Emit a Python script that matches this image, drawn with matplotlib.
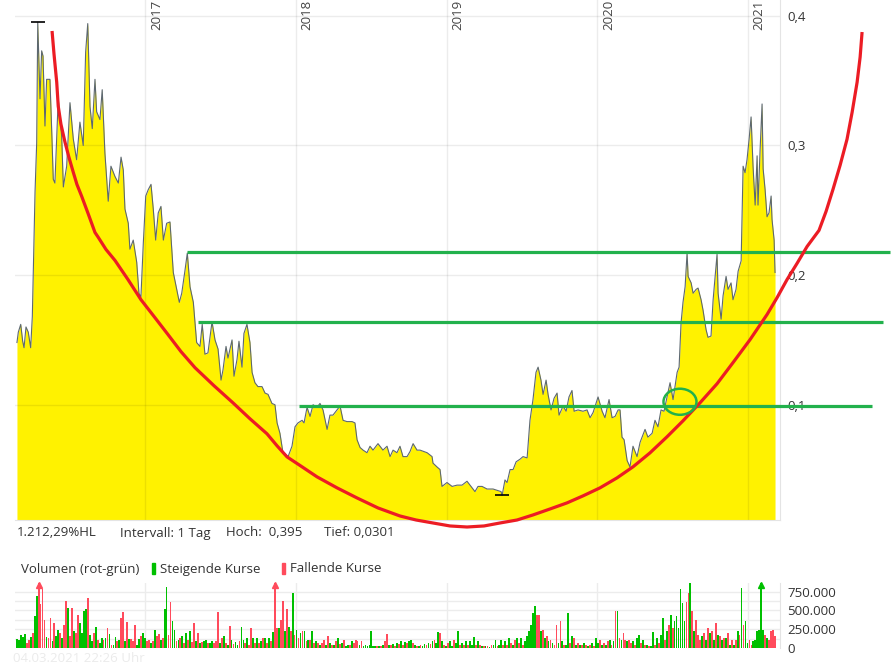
"""Chart with cup formation: daily price (yellow area) plus volume bars below."""

import matplotlib
matplotlib.use("Agg")
import matplotlib.pyplot as plt
import numpy as np
from matplotlib.patches import Ellipse, Rectangle

plt.rcParams["font.family"] = ["Open Sans", "DejaVu Sans"]

# ---- price data (decimal year, close) ----
price_years = [
    2016.148, 2016.157, 2016.173, 2016.186, 2016.195, 2016.208, 2016.223, 2016.239, 2016.250, 2016.268,
    2016.279, 2016.286, 2016.301, 2016.312, 2016.321, 2016.334, 2016.345, 2016.367, 2016.380, 2016.389,
    2016.400, 2016.422, 2016.445, 2016.456, 2016.478, 2016.500, 2016.522, 2016.544, 2016.566, 2016.588,
    2016.604, 2016.618, 2016.633, 2016.648, 2016.666, 2016.677, 2016.699, 2016.714, 2016.732, 2016.754,
    2016.772, 2016.799, 2016.821, 2016.839, 2016.854, 2016.865, 2016.887, 2016.898, 2016.920, 2016.943,
    2016.958, 2016.971, 2016.987, 2017.003, 2017.020, 2017.038, 2017.053, 2017.069, 2017.086, 2017.104,
    2017.120, 2017.142, 2017.164, 2017.186, 2017.209, 2017.226, 2017.242, 2017.264, 2017.279, 2017.297,
    2017.319, 2017.341, 2017.363, 2017.378, 2017.396, 2017.416, 2017.443, 2017.463, 2017.483, 2017.503,
    2017.516, 2017.536, 2017.549, 2017.576, 2017.589, 2017.609, 2017.622, 2017.642, 2017.655, 2017.675,
    2017.695, 2017.709, 2017.728, 2017.748, 2017.775, 2017.795, 2017.815, 2017.841, 2017.861, 2017.875,
    2017.894, 2017.914, 2017.928, 2017.948, 2017.974, 2017.994, 2018.014, 2018.041, 2018.054, 2018.074,
    2018.094, 2018.114, 2018.140, 2018.160, 2018.180, 2018.207, 2018.226, 2018.246, 2018.273, 2018.293,
    2018.313, 2018.339, 2018.373, 2018.392, 2018.406, 2018.426, 2018.446, 2018.472, 2018.492, 2018.512,
    2018.545, 2018.578, 2018.605, 2018.625, 2018.645, 2018.671, 2018.691, 2018.711, 2018.738, 2018.758,
    2018.778, 2018.804, 2018.824, 2018.871, 2018.904, 2018.910, 2018.937, 2018.957, 2018.970, 2019.003,
    2019.037, 2019.070, 2019.103, 2019.136, 2019.169, 2019.189, 2019.209, 2019.236, 2019.269, 2019.309,
    2019.335, 2019.362, 2019.369, 2019.388, 2019.402, 2019.422, 2019.442, 2019.462, 2019.488, 2019.508,
    2019.535, 2019.541, 2019.554, 2019.574, 2019.594, 2019.608, 2019.627, 2019.641, 2019.661, 2019.674,
    2019.694, 2019.714, 2019.734, 2019.747, 2019.774, 2019.794, 2019.813, 2019.833, 2019.847, 2019.873,
    2019.906, 2019.933, 2019.953, 2019.973, 2020.006, 2020.033, 2020.052, 2020.079, 2020.099, 2020.119,
    2020.139, 2020.152, 2020.165, 2020.179, 2020.199, 2020.218, 2020.238, 2020.265, 2020.285, 2020.318,
    2020.337, 2020.365, 2020.384, 2020.404, 2020.424, 2020.444, 2020.464, 2020.484, 2020.504, 2020.531,
    2020.544, 2020.557, 2020.570, 2020.584, 2020.597, 2020.604, 2020.624, 2020.637, 2020.657, 2020.670,
    2020.690, 2020.703, 2020.723, 2020.736, 2020.756, 2020.770, 2020.783, 2020.796, 2020.803, 2020.823,
    2020.836, 2020.856, 2020.869, 2020.889, 2020.902, 2020.922, 2020.936, 2020.956, 2020.969, 2020.982,
    2020.995, 2021.009, 2021.022, 2021.035, 2021.049, 2021.062, 2021.068, 2021.082, 2021.095, 2021.102,
    2021.115, 2021.128, 2021.141, 2021.155, 2021.161, 2021.175, 2021.181,
]
price_close = [
    0.148, 0.156, 0.162, 0.149, 0.144, 0.160, 0.156, 0.144, 0.168, 0.264,
    0.302, 0.395, 0.336, 0.373, 0.369, 0.315, 0.351, 0.351, 0.307, 0.274,
    0.271, 0.336, 0.307, 0.268, 0.284, 0.333, 0.305, 0.289, 0.318, 0.300,
    0.372, 0.394, 0.330, 0.313, 0.351, 0.326, 0.320, 0.343, 0.294, 0.257,
    0.284, 0.276, 0.271, 0.291, 0.281, 0.251, 0.240, 0.220, 0.227, 0.210,
    0.186, 0.183, 0.225, 0.261, 0.266, 0.270, 0.251, 0.227, 0.248, 0.253,
    0.227, 0.240, 0.241, 0.202, 0.189, 0.179, 0.186, 0.204, 0.217, 0.191,
    0.179, 0.148, 0.145, 0.162, 0.139, 0.140, 0.164, 0.150, 0.143, 0.119,
    0.127, 0.145, 0.136, 0.150, 0.122, 0.135, 0.149, 0.129, 0.155, 0.162,
    0.148, 0.125, 0.117, 0.114, 0.114, 0.109, 0.108, 0.101, 0.100, 0.086,
    0.078, 0.063, 0.062, 0.060, 0.068, 0.083, 0.086, 0.088, 0.086, 0.098,
    0.091, 0.100, 0.098, 0.101, 0.096, 0.081, 0.092, 0.092, 0.096, 0.099,
    0.088, 0.087, 0.087, 0.086, 0.073, 0.067, 0.065, 0.063, 0.068, 0.065,
    0.070, 0.065, 0.068, 0.060, 0.065, 0.063, 0.068, 0.060, 0.060, 0.064,
    0.070, 0.065, 0.065, 0.063, 0.060, 0.055, 0.052, 0.050, 0.037, 0.040,
    0.037, 0.038, 0.038, 0.041, 0.036, 0.033, 0.037, 0.037, 0.035, 0.035,
    0.034, 0.033, 0.030, 0.042, 0.040, 0.050, 0.050, 0.056, 0.058, 0.060,
    0.059, 0.068, 0.088, 0.104, 0.125, 0.129, 0.119, 0.108, 0.119, 0.108,
    0.096, 0.105, 0.109, 0.092, 0.099, 0.095, 0.106, 0.111, 0.095, 0.096,
    0.095, 0.096, 0.090, 0.094, 0.106, 0.095, 0.090, 0.104, 0.090, 0.091,
    0.096, 0.096, 0.075, 0.073, 0.057, 0.052, 0.068, 0.060, 0.071, 0.081,
    0.075, 0.078, 0.088, 0.083, 0.096, 0.095, 0.106, 0.117, 0.104, 0.125,
    0.129, 0.163, 0.179, 0.191, 0.217, 0.199, 0.194, 0.186, 0.189, 0.190,
    0.181, 0.173, 0.158, 0.152, 0.153, 0.181, 0.199, 0.216, 0.186, 0.166,
    0.184, 0.199, 0.189, 0.194, 0.181, 0.189, 0.203, 0.211, 0.284, 0.279,
    0.289, 0.305, 0.322, 0.284, 0.254, 0.292, 0.254, 0.297, 0.332, 0.282,
    0.266, 0.245, 0.248, 0.261, 0.243, 0.227, 0.202,
]

# period high / low markers
high_point = (2016.286, 0.395)
low_point = (2019.369, 0.0301)

# ---- volume (thousands), one bar every few days; 1 = rising day ----
volume_k = [
    120, 100, 179, 150, 187, 60, 112, 150, 201, 433, 692, 1200, 589, 781, 379, 143, 134, 402, 89, 335,
    156, 246, 201, 134,
    312, 625, 536, 156, 536, 223, 201, 446, 335, 201, 491, 513, 661, 179, 89, 201, 277, 112, 67, 134,
    112, 134, 268, 187, 45, 45, 143, 89, 112, 402, 482, 89, 344, 120, 120, 89, 312, 45, 120, 156,
    201, 134, 89, 112, 67, 89, 246, 156, 187, 112, 134, 513, 817, 179, 616, 357, 246, 89, 112, 134,
    156, 67, 201, 112, 223, 80, 335, 89, 201, 67, 76, 89, 112, 67, 67, 89, 67, 98, 482, 67,
    134, 156, 67, 45, 290, 112, 54, 80, 45, 89, 286, 112, 67, 134, 45, 268, 134, 67, 134, 67,
    89, 134, 134, 67, 134, 89, 214, 1200, 268, 268, 379, 625, 223, 513, 277, 223, 737, 179, 246, 134,
    201, 223, 223, 89, 112, 112, 223, 67, 89, 67, 45, 67, 112, 45, 156, 67, 45, 45, 89, 134,
    54, 67, 112, 22, 45, 45, 89, 67, 112, 89, 45, 89, 22, 45, 22, 45, 232, 22, 22, 22,
    22, 22, 45, 89, 187, 45, 45, 54, 22, 67, 54, 89, 45, 80, 62, 98, 112, 67, 45, 31,
    22, 45, 22, 54, 45, 67, 54, 89, 112, 67, 214, 201, 89, 45, 22, 67, 89, 22, 112, 67,
    232, 45, 67, 45, 89, 45, 89, 45, 143, 45, 98, 45, 22, 22, 22, 22, 9, 45, 45, 112,
    22, 45, 107, 45, 89, 45, 134, 67, 45, 112, 134, 67, 134, 45, 89, 156, 223, 312, 469, 558,
    446, 446, 223, 246, 134, 156, 89, 112, 67, 45, 312, 67, 357, 89, 45, 45, 469, 67, 156, 134,
    45, 67, 45, 45, 67, 45, 22, 45, 67, 22, 134, 67, 112, 45, 67, 45, 89, 112, 45, 89,
    491, 491, 134, 112, 201, 112, 89, 112, 67, 89, 45, 134, 179, 67, 112, 45, 45, 22, 22, 214,
    45, 134, 67, 179, 402, 112, 223, 312, 446, 268, 357, 424, 268, 781, 603, 357, 616, 737, 860, 491,
    223, 379, 179, 112, 156, 201, 112, 268, 201, 223, 112, 335, 179, 156, 112, 134, 134, 201, 45, 112,
    45, 112, 223, 179, 804, 312, 357, 67, 112, 45, 89, 112, 223, 246, 1200, 246, 179, 134, 112, 223,
    246, 156,
]
volume_up = [
    1, 1, 1, 1, 1, 0, 0, 1, 0, 1, 1, 0, 0, 0, 0, 1, 0, 0, 1, 0,
    1, 1, 0, 1,
    0, 0, 1, 0, 0, 1, 0, 0, 1, 1, 1, 1, 0, 1, 1, 0, 1, 0, 1, 1,
    0, 1, 0, 1, 0, 1, 1, 0, 1, 0, 0, 1, 0, 1, 0, 0, 0, 1, 1, 0,
    1, 1, 0, 0, 1, 0, 1, 0, 0, 1, 0, 1, 1, 0, 0, 1, 1, 0, 1, 0,
    1, 0, 1, 0, 1, 0, 0, 1, 0, 1, 0, 1, 1, 0, 1, 1, 0, 0, 0, 1,
    0, 1, 0, 1, 0, 1, 0, 1, 1, 0, 1, 1, 0, 1, 0, 0, 1, 0, 1, 0,
    1, 0, 1, 0, 1, 0, 1, 0, 0, 1, 0, 0, 1, 0, 1, 0, 1, 0, 1, 0,
    1, 0, 1, 0, 1, 0, 1, 0, 1, 0, 1, 0, 0, 1, 0, 1, 0, 1, 0, 1,
    0, 1, 0, 1, 1, 0, 1, 0, 0, 0, 1, 0, 1, 1, 1, 1, 1, 1, 1, 0,
    1, 0, 1, 0, 0, 1, 0, 1, 0, 1, 0, 1, 0, 1, 0, 1, 1, 0, 1, 0,
    1, 0, 1, 1, 0, 1, 0, 1, 0, 1, 1, 0, 1, 0, 1, 0, 1, 1, 0, 1,
    1, 0, 1, 0, 1, 0, 1, 1, 1, 0, 1, 0, 1, 0, 1, 0, 1, 0, 1, 1,
    0, 1, 1, 0, 1, 0, 1, 0, 1, 0, 1, 0, 1, 0, 1, 1, 1, 1, 1, 1,
    0, 0, 1, 0, 1, 0, 1, 0, 1, 0, 0, 1, 0, 1, 0, 1, 1, 0, 1, 0,
    1, 0, 1, 0, 1, 0, 1, 0, 1, 0, 1, 1, 0, 1, 0, 1, 0, 1, 0, 1,
    0, 1, 0, 1, 0, 0, 1, 0, 0, 1, 0, 1, 1, 0, 1, 0, 1, 0, 1, 1,
    0, 1, 0, 1, 1, 0, 1, 0, 1, 0, 1, 1, 1, 1, 1, 1, 0, 0, 1, 0,
    1, 0, 0, 0, 1, 0, 1, 0, 1, 0, 1, 0, 1, 0, 1, 0, 1, 0, 1, 0,
    1, 0, 1, 0, 1, 0, 1, 1, 0, 0, 1, 1, 1, 1, 1, 1, 0, 1, 0, 0,
    0, 0,
]

# ---- hand-drawn annotations (year, price) ----
cup_years = [
    2016.381, 2016.394, 2016.412, 2016.422, 2016.440, 2016.467, 2016.493, 2016.522, 2016.546, 2016.578,
    2016.620, 2016.666, 2016.688, 2016.739, 2016.799, 2016.885, 2016.971, 2017.064, 2017.151, 2017.237,
    2017.330, 2017.456, 2017.582, 2017.695, 2017.808, 2017.875, 2017.941, 2018.041, 2018.140, 2018.273,
    2018.406, 2018.545, 2018.691, 2018.798, 2018.910, 2019.023, 2019.136, 2019.249, 2019.355, 2019.468,
    2019.574, 2019.687, 2019.800, 2019.906, 2020.019, 2020.132, 2020.238, 2020.351, 2020.464, 2020.570,
    2020.683, 2020.796, 2020.902, 2021.015, 2021.128, 2021.195, 2021.261, 2021.327, 2021.394, 2021.473,
    2021.520, 2021.566, 2021.613, 2021.659, 2021.693, 2021.726, 2021.746, 2021.759,
]
cup_price = [
    0.3883, 0.3705, 0.3488, 0.3303, 0.3164, 0.3025, 0.2909, 0.2793, 0.2700, 0.2607,
    0.2476, 0.2329, 0.2291, 0.2198, 0.2113, 0.1966, 0.1811, 0.1672, 0.1541, 0.1410,
    0.1286, 0.1147, 0.1015, 0.0892, 0.0776, 0.0683, 0.0598, 0.0521, 0.0444, 0.0359,
    0.0281, 0.0204, 0.0142, 0.0111, 0.0088, 0.0065, 0.0057, 0.0065, 0.0088, 0.0111,
    0.0150, 0.0196, 0.0243, 0.0297, 0.0359, 0.0436, 0.0521, 0.0629, 0.0753, 0.0876,
    0.1015, 0.1162, 0.1325, 0.1502, 0.1696, 0.1827, 0.1966, 0.2090, 0.2221, 0.2345,
    0.2492, 0.2662, 0.2847, 0.3048, 0.3257, 0.3488, 0.3682, 0.3875,
]
level_price = [0.2175, 0.164, 0.0992]
level_start = [2017.277, 2017.352, 2018.021]
level_end = [2021.945, 2021.898, 2021.825]
breakout_mark = (2020.550, 0.1023)

year_ticks = [2017, 2018, 2019, 2020, 2021]
price_ticks = [0.1, 0.2, 0.3, 0.4]
price_tick_labels = ["0,1", "0,2", "0,3", "0,4"]
vol_ticks = [0, 250000, 500000, 750000]
vol_tick_labels = ["0", "250.000", "500.000", "750.000"]
vol_grid = [125000, 250000, 375000, 500000, 625000, 750000]

YELLOW = "#fff200"
LINE = "#5d6870"
GRID = "#ececec"
TXT = "#333333"
PAINT_RED = "#ec1c24"
PAINT_GREEN = "#22b14c"
UP = "#00c000"
DOWN = "#ff4b5c"

W, H = 895, 669
fig = plt.figure(figsize=(W / 100, H / 100), dpi=100)
fig.patch.set_facecolor("white")


def fx(px):
    return px / W


def fy(py):
    return 1 - py / H


x_lo, x_hi = 2016.135, 2021.214

# ---- price panel ----
ax = fig.add_axes([fx(15), fy(520), fx(780) - fx(15), fy(0) - fy(520)])
ax.set_xlim(x_lo, x_hi)
ax.set_ylim(0.0111, 0.4122)
ax.fill_between(price_years, 0, price_close, color=YELLOW, linewidth=0, zorder=1)
ax.plot(price_years, price_close, color=LINE, linewidth=0.8, zorder=3)
for yv in price_ticks:
    ax.axhline(yv, color="black", alpha=0.075, linewidth=1, zorder=2)
for xv in year_ticks:
    ax.axvline(xv, color="black", alpha=0.075, linewidth=1, zorder=2)
    ax.annotate(str(xv), xy=(xv, 1), xycoords=("data", "axes fraction"),
                xytext=(3.5, 0), textcoords="offset points", rotation=90,
                ha="left", va="top", fontsize=9.5, color="#444444")
ax.plot(*high_point, marker="_", markersize=10, color="black", mew=1.2, zorder=4)
ax.plot(*low_point, marker="_", markersize=10, color="black", mew=1.2, zorder=4)

ax.set_yticks(price_ticks)
ax.set_yticklabels(price_tick_labels)
ax.yaxis.tick_right()
ax.tick_params(axis="y", length=0, pad=5, labelsize=9.5, labelcolor=TXT)
ax.set_xticks([])
for side in ["left", "top"]:
    ax.spines[side].set_visible(False)
for side in ["right", "bottom"]:
    ax.spines[side].set_color("#e4e4e4")

# annotations drawn over the chart, allowed to leave the plot area
ax.plot(cup_years, cup_price, color=PAINT_RED, linewidth=2.3, clip_on=False, zorder=6,
        solid_capstyle="butt", solid_joinstyle="round")
for p, x0, x1 in zip(level_price, level_start, level_end):
    ax.plot([x0, x1], [p, p], color=PAINT_GREEN, linewidth=2.3, clip_on=False, zorder=5,
            solid_capstyle="butt")
ax.add_patch(Ellipse(breakout_mark, 0.219, 0.0201, fill=False, edgecolor=PAINT_GREEN,
                     linewidth=1.8, clip_on=False, zorder=7))

# ---- info line ----
fig.text(fx(17), fy(533), "1.212,29%HL", fontsize=9.5, color=TXT, va="center")
fig.text(fx(120), fy(533), "Intervall: 1 Tag", fontsize=9.5, color=TXT, va="center")
fig.text(fx(226), fy(533), "Hoch:  0,395", fontsize=9.5, color=TXT, va="center")
fig.text(fx(324), fy(533), "Tief: 0,0301", fontsize=9.5, color=TXT, va="center")

# ---- volume legend ----
fig.text(fx(21), fy(569), "Volumen (rot-grün)", fontsize=9.5, color=TXT, va="center")
fig.patches.append(Rectangle((fx(152), fy(574)), fx(3), fy(563) - fy(574),
                             transform=fig.transFigure, color=UP))
fig.text(fx(160), fy(569), "Steigende Kurse", fontsize=9.5, color=TXT, va="center")
fig.patches.append(Rectangle((fx(282.5), fy(574)), fx(3), fy(563) - fy(574),
                             transform=fig.transFigure, color=DOWN))
fig.text(fx(290), fy(569), "Fallende Kurse", fontsize=9.5, color=TXT, va="center")

# ---- volume panel ----
axv = fig.add_axes([fx(15), fy(648), fx(780) - fx(15), fy(583) - fy(648)])
v_top = 866000
axv.set_xlim(x_lo, x_hi)
axv.set_ylim(0, v_top)
vol = np.array(volume_k) * 1000.0
up = np.array(volume_up, dtype=bool)
vol_x = np.linspace(price_years[0], price_years[-1], len(vol))
colors = [UP if u else DOWN for u in up]
axv.bar(vol_x, vol, width=0.0118, color=colors, linewidth=0, zorder=2)
for xv, v, c in zip(vol_x, vol, colors):
    if v > v_top:
        axv.plot([xv], [v_top * 0.965], marker="^", markersize=5, color=c,
                 clip_on=False, zorder=3)
for yv in vol_grid:
    axv.axhline(yv, color=GRID, linewidth=1, zorder=1)
for xv in year_ticks:
    axv.axvline(xv, color=GRID, linewidth=1, zorder=1)
axv.set_yticks(vol_ticks)
axv.set_yticklabels(vol_tick_labels)
axv.yaxis.tick_right()
axv.tick_params(axis="y", length=0, pad=5, labelsize=9.5, labelcolor=TXT)
axv.set_xticks([])
for side in ["left", "top", "bottom"]:
    axv.spines[side].set_visible(False)
axv.spines["right"].set_color("#e4e4e4")

fig.text(fx(13), fy(658), "04.03.2021 22:26 Uhr", fontsize=9.5, color="#ebebeb", va="center")

fig.savefig("out.png", dpi=100)
